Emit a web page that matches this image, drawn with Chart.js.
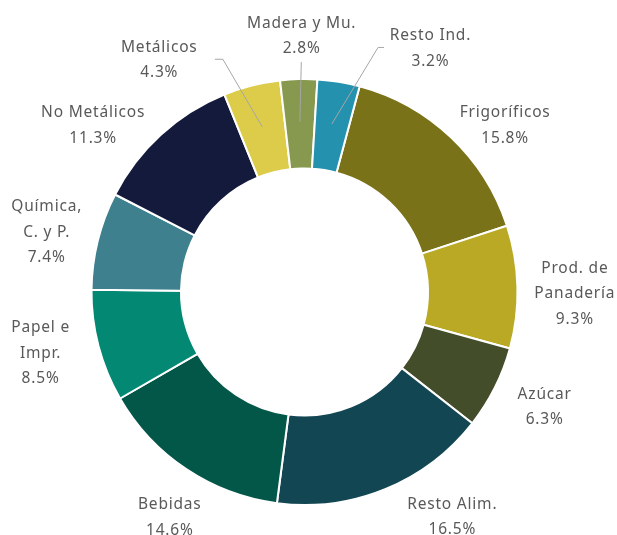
<!DOCTYPE html>
<html>
<head>
<meta charset="utf-8">
<script src="https://cdn.jsdelivr.net/npm/chart.js@4"></script>
<style>
  html, body { margin: 0; padding: 0; background: #fff; }
  #wrap { width: 617px; height: 535px; position: relative; }
</style>
</head>
<body>
<div id="wrap"><canvas id="c"></canvas></div>
<script>
// ── DATA ──────────────────────────────────────────────────────────────────────
const categories = [
  'Frigoríficos', 'Prod. de\nPanadería', 'Azúcar', 'Resto Alim.', 'Bebidas',
  'Papel e\nImpr.', 'Química,\nC. y P.', 'No Metálicos', 'Metálicos',
  'Madera y Mu.', 'Resto Ind.'
];
const shares = [15.8, 9.3, 6.3, 16.5, 14.6, 8.5, 7.4, 11.3, 4.3, 2.8, 3.2];

// ── STYLE ─────────────────────────────────────────────────────────────────────
const colors = [
  '#7a7218', '#b9a925', '#434d29', '#134653', '#035748',
  '#038874', '#3f808f', '#141a3b', '#ddcc4a', '#87984f', '#2492ae'
];
const LABEL_R    = 52;   // label anchor distance beyond the outer edge
const LINE_H     = 25.5; // label line height
// nudge from the radial anchor, per slice (Excel "best fit" placement)
const labelShift = [
  [18, 25], [5, 7], [3, -5], [47, -21], [12, 4],
  [-8, -7], [-1, 3], [-33, 28], [-80, 24], [4, 8], [83, 17]
];
// leader lines: start offset from label centre, horizontal stub length
const leaders = {
  8:  { dx: 56,  dy: 0,  stub: 8 },
  9:  { dx: 0,   dy: 27, stub: 0 },
  10: { dx: -46, dy: 0,  stub: -6 }
};

const labelPlugin = {
  id: 'sliceLabels',
  afterDatasetsDraw(chart) {
    const { ctx } = chart;
    const meta = chart.getDatasetMeta(0);
    ctx.save();
    ctx.font = "15.5px 'Noto Sans'";
    ctx.letterSpacing = '0.8px';
    ctx.textAlign = 'center';
    ctx.textBaseline = 'middle';
    meta.data.forEach((arc, i) => {
      const { x, y, startAngle, endAngle, innerRadius, outerRadius } = arc.getProps(
        ['x', 'y', 'startAngle', 'endAngle', 'innerRadius', 'outerRadius'], true);
      const mid = (startAngle + endAngle) / 2;
      const r = outerRadius + LABEL_R;
      const cx = x + Math.cos(mid) * r + labelShift[i][0];
      const cy = y + Math.sin(mid) * r + labelShift[i][1];
      const lines = categories[i].split('\n').concat(shares[i].toFixed(1) + '%');

      const ld = leaders[i];
      if (ld) {
        const rm = (innerRadius + outerRadius) / 2 + 2;
        const sx = cx + ld.dx, sy = cy + ld.dy;
        ctx.strokeStyle = '#a6a6a6';
        ctx.lineWidth = 1;
        ctx.beginPath();
        ctx.moveTo(sx, sy);
        ctx.lineTo(sx + ld.stub, sy);
        ctx.lineTo(x + Math.cos(mid) * rm, y + Math.sin(mid) * rm);
        ctx.stroke();
      }

      ctx.fillStyle = '#595959';
      const top = cy - (lines.length - 1) * LINE_H / 2;
      lines.forEach((t, k) => ctx.fillText(t, cx + 0.4, top + k * LINE_H + 1));
    });
    ctx.restore();
  }
};

new Chart(document.getElementById('c'), {
  type: 'doughnut',
  data: {
    labels: categories,
    datasets: [{
      data: shares,
      backgroundColor: colors,
      borderColor: '#ffffff',
      borderWidth: 2
    }]
  },
  options: {
    responsive: true,
    maintainAspectRatio: false,
    animation: false,
    rotation: 15,
    cutout: '58%',
    layout: { padding: { left: 90, right: 98, top: 78, bottom: 29 } },
    plugins: {
      legend: { display: false },
      tooltip: { enabled: false }
    }
  },
  plugins: [labelPlugin]
});
</script>
</body>
</html>
